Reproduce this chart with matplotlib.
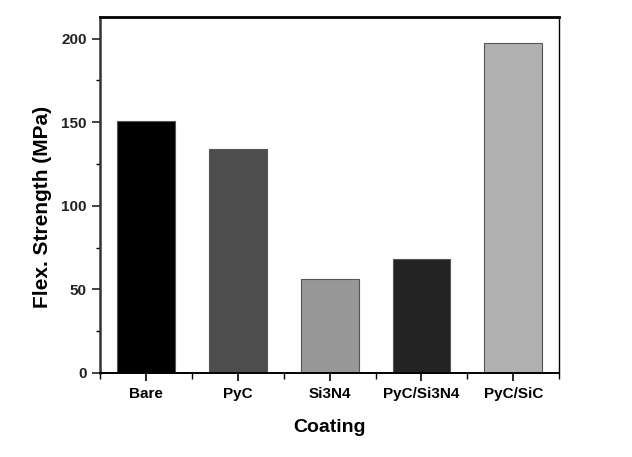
import matplotlib
matplotlib.use("Agg")
import matplotlib.pyplot as plt
import numpy as np

coatings = ['Bare', 'PyC', 'Si3N4', 'PyC/Si3N4', 'PyC/SiC']
strength = [150.5, 134, 56, 68, 197.5]
bar_colors = ['#000000', '#4d4d4d', '#979797', '#232323', '#b0b0b0']

plt.rcParams['font.family'] = ['Liberation Sans', 'DejaVu Sans']
plt.rcParams['font.weight'] = 'bold'

fig = plt.figure(figsize=(6.32, 4.57), dpi=100)
ax = fig.add_axes([0.158, 0.184, 0.727, 0.779])

x = np.arange(1, len(coatings) + 1)
ax.bar(x, strength, width=0.63, color=bar_colors, edgecolor='#555555', linewidth=0.8)

ax.set_xlim(0.5, 5.5)
ax.set_ylim(0, 213)
ax.set_xticks(x)
ax.set_xticklabels(coatings, fontsize=11, fontweight='bold')
ax.set_xticks(np.arange(0.5, 6.0, 1.0), minor=True)
ax.set_yticks([0, 50, 100, 150, 200])
ax.set_yticks([25, 75, 125, 175], minor=True)
ax.tick_params(axis='y', labelsize=11, direction='out', length=6, width=1.2, colors='#222222')
ax.tick_params(axis='y', which='minor', length=3, width=1)
ax.tick_params(axis='x', direction='out', length=6, width=1.2, pad=4)
ax.tick_params(axis='x', which='minor', length=4, width=1)

for lbl in ax.get_yticklabels():
    lbl.set_fontweight('bold')

ax.spines['left'].set_linewidth(1.8)
ax.spines['left'].set_color('#333333')
ax.spines['bottom'].set_linewidth(1.4)
ax.spines['top'].set_linewidth(2.0)
ax.spines['right'].set_linewidth(1.0)

ax.set_ylabel('Flex. Strength (MPa)', fontsize=15, fontweight='bold')
ax.yaxis.set_label_coords(-0.105, 0.465)
ax.set_xlabel('Coating', fontsize=14, fontweight='bold', labelpad=13)

fig.savefig('out.png', dpi=100)
